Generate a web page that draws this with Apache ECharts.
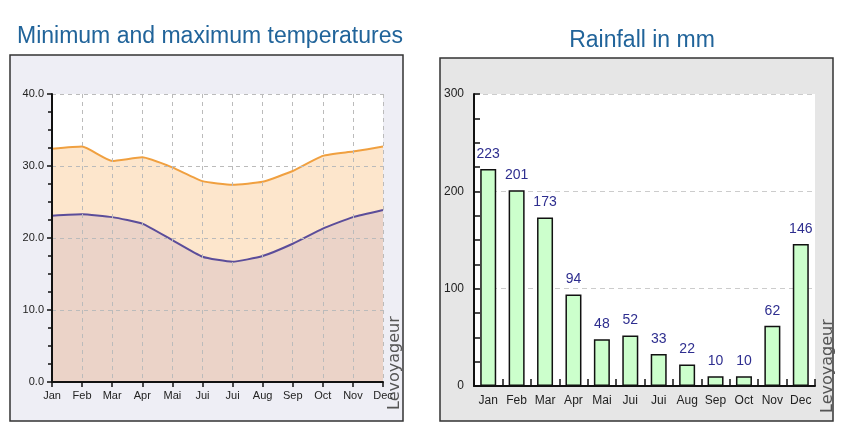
<!DOCTYPE html>
<html>
<head>
<meta charset="utf-8">
<script src="https://cdn.jsdelivr.net/npm/echarts@6/dist/echarts.min.js"></script>
<style>
html,body{margin:0;padding:0;background:#fff;}
#c{width:844px;height:435px;}
</style>
</head>
<body>
<div id="c"></div>
<script>
const months = ['Jan','Feb','Mar','Apr','Mai','Jui','Jui','Aug','Sep','Oct','Nov','Dec'];
const tempMax = [32.4, 32.7, 30.7, 31.2, 29.8, 27.9, 27.4, 27.8, 29.3, 31.4, 32.0, 32.7];
const tempMin = [23.1, 23.3, 22.9, 22.0, 19.7, 17.4, 16.7, 17.5, 19.2, 21.3, 22.9, 23.9];
const rainfall = [223, 201, 173, 94, 48, 52, 33, 22, 10, 10, 62, 146];
const tempTicks = [0, 10, 20, 30, 40];
const rainTicks = [0, 100, 200, 300];

const chart = echarts.init(document.getElementById('c'), null, {renderer: 'canvas'});
const font = 'Liberation Sans, Arial, sans-serif';
const dash = {type: [4, 4], color: '#bbbbbb', width: 1};

chart.setOption({
  animation: false,
  backgroundColor: '#ffffff',
  title: [
    {text: 'Minimum and maximum temperatures', left: 205, top: 20, textAlign: 'center',
     textStyle: {fontFamily: font, fontSize: 23, fontWeight: 'normal', color: '#21649a'}},
    {text: 'Rainfall in mm', left: 637, top: 24, textAlign: 'center',
     textStyle: {fontFamily: font, fontSize: 23, fontWeight: 'normal', color: '#21649a'}}
  ],
  graphic: [
    {type: 'rect', z: -10, shape: {x: 10, y: 55, width: 393, height: 366},
     style: {fill: '#eeeef5', stroke: '#333333', lineWidth: 1.5}},
    {type: 'rect', z: -10, shape: {x: 440, y: 58, width: 393, height: 363},
     style: {fill: '#e6e6e6', stroke: '#333333', lineWidth: 1.5}},
    {type: 'text', x: 395, y: 410, rotation: Math.PI / 2,
     style: {text: 'Levoyageur', font: '16px DejaVu Sans, sans-serif', fill: '#555555', textVerticalAlign: 'middle'}},
    {type: 'text', x: 828, y: 413, rotation: Math.PI / 2,
     style: {text: 'Levoyageur', font: '16px DejaVu Sans, sans-serif', fill: '#555555', textVerticalAlign: 'middle'}}
  ],
  grid: [
    {left: 52, top: 94, width: 331, height: 288, show: true, backgroundColor: '#ffffff', borderWidth: 0},
    {left: 474, top: 94, width: 341, height: 292, show: true, backgroundColor: '#ffffff', borderWidth: 0}
  ],
  xAxis: [
    {gridIndex: 0, type: 'category', data: months, boundaryGap: false, z: 5,
     axisLine: {lineStyle: {color: '#111', width: 2}},
     axisTick: {show: true, length: 5, lineStyle: {color: '#111', width: 1.5}},
     axisLabel: {color: '#222', fontFamily: font, fontSize: 11, margin: 8, interval: 0},
     splitLine: {show: true, lineStyle: dash}},
    {gridIndex: 1, type: 'category', data: months, boundaryGap: true,
     axisLine: {lineStyle: {color: '#111', width: 2}},
     axisTick: {show: true, inside: true, length: 7, lineStyle: {color: '#111', width: 1.5}},
     axisLabel: {color: '#222', fontFamily: font, fontSize: 12, margin: 9, interval: 0},
     splitLine: {show: false}}
  ],
  yAxis: [
    {gridIndex: 0, type: 'value', min: tempTicks[0], max: tempTicks[tempTicks.length - 1], interval: 10, z: 5,
     axisLine: {show: true, lineStyle: {color: '#111', width: 2}},
     axisTick: {show: true, length: 5, lineStyle: {color: '#111', width: 1.5}},
     minorTick: {show: true, splitNumber: 4, length: 4, lineStyle: {color: '#111', width: 1.5}},
     axisLabel: {color: '#222', fontFamily: font, fontSize: 11, margin: 8,
                 formatter: v => v.toFixed(1)},
     splitLine: {show: true, lineStyle: dash}},
    {gridIndex: 1, type: 'value', min: rainTicks[0], max: rainTicks[rainTicks.length - 1], interval: 100,
     axisLine: {show: true, lineStyle: {color: '#111', width: 2}},
     axisTick: {show: true, inside: true, length: 6, lineStyle: {color: '#111', width: 1.5}},
     minorTick: {show: true, splitNumber: 4, length: 6, lineStyle: {color: '#111', width: 1.5}},
     axisLabel: {color: '#222', fontFamily: font, fontSize: 12, margin: 10},
     splitLine: {show: true, lineStyle: {type: [5, 4], color: '#cccccc', width: 1}}}
  ],
  series: [
    {type: 'line', xAxisIndex: 0, yAxisIndex: 0, data: tempMax, symbol: 'none', smooth: 0.15, z: 2,
     lineStyle: {color: '#f0a040', width: 2},
     areaStyle: {color: '#fde6cc', opacity: 1}},
    {type: 'line', xAxisIndex: 0, yAxisIndex: 0, data: tempMin, symbol: 'none', smooth: 0.15, z: 3,
     lineStyle: {color: '#5b4d9a', width: 2},
     areaStyle: {color: '#ebd3c8', opacity: 1}},
    {type: 'bar', xAxisIndex: 1, yAxisIndex: 1, data: rainfall, barWidth: 16,
     itemStyle: {color: '#ccffcc', borderColor: '#111', borderWidth: 1.5},
     label: {show: true, position: 'top', distance: 8, color: '#2e2e8f', fontFamily: font, fontSize: 14}}
  ]
});
</script>
</body>
</html>
